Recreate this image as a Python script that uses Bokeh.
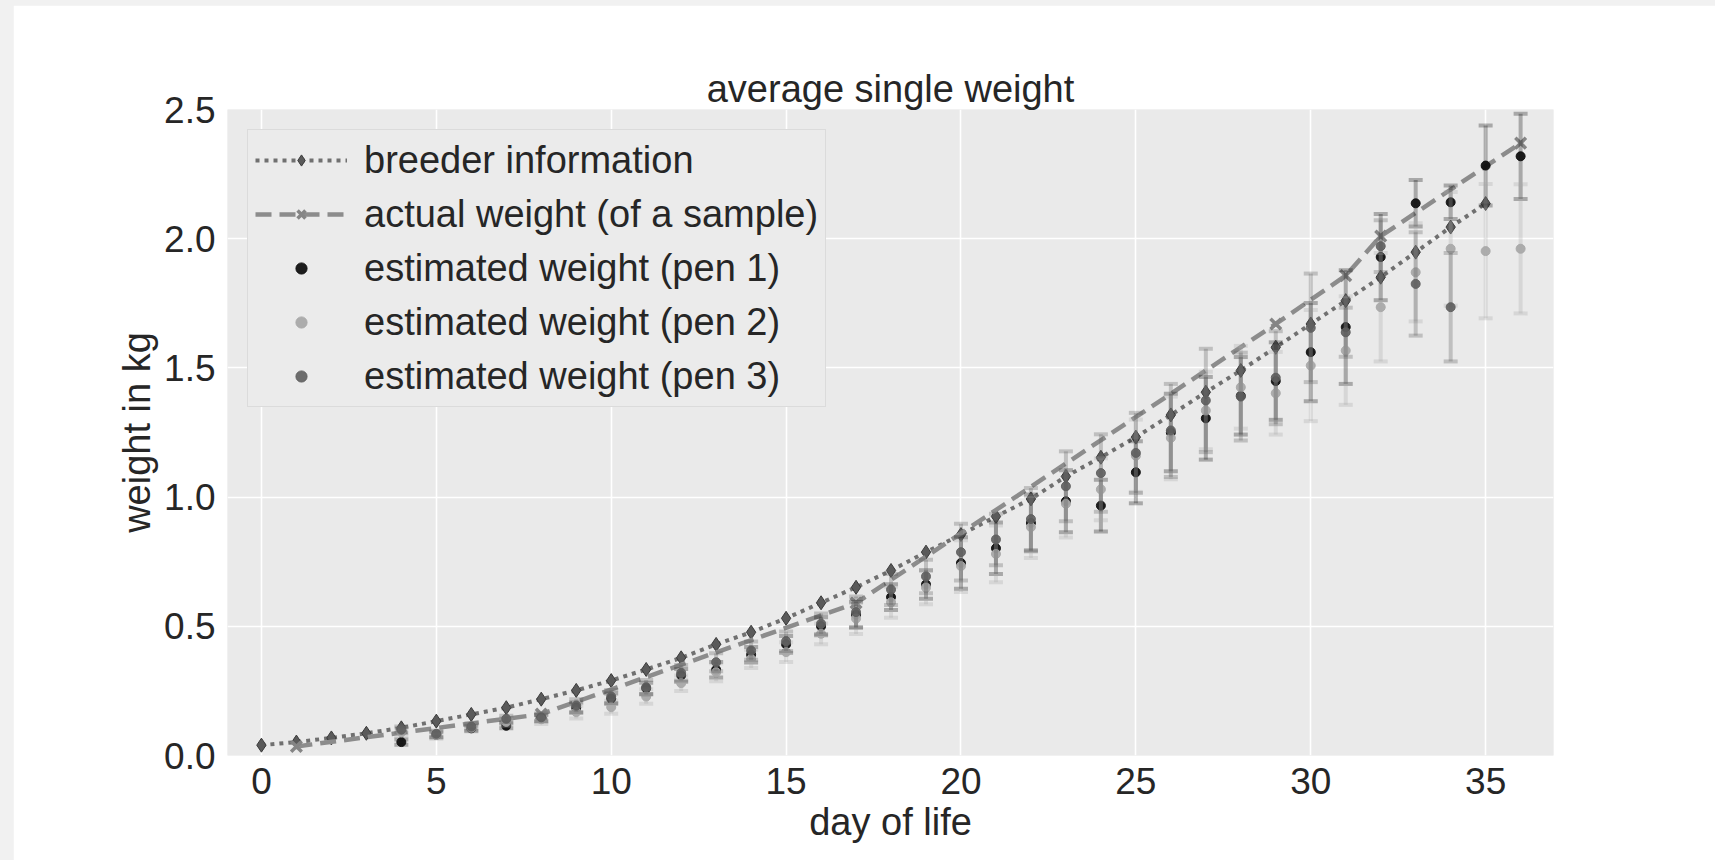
from bokeh.plotting import figure
from bokeh.models import (Range1d, FixedTicker, NumeralTickFormatter, Legend, LegendItem, Column)
from bokeh.embed import file_html
from bokeh.resources import INLINE

# ---------------- data ----------------
breeder_days = list(range(0, 36))
breeder_kg = [0.040, 0.052, 0.068, 0.086, 0.107, 0.133, 0.159, 0.185, 0.218, 0.252,
              0.290, 0.333, 0.378, 0.430, 0.477, 0.531, 0.591, 0.651, 0.716, 0.787,
              0.855, 0.925, 0.993, 1.080, 1.154, 1.232, 1.318, 1.406, 1.490, 1.580,
              1.670, 1.760, 1.851, 1.948, 2.045, 2.136]

actual_days = [1, 8, 17, 29, 31, 32, 36]
actual_kg = [0.035, 0.160, 0.590, 1.670, 1.857, 2.010, 2.370]

pen1_days = list(range(4, 37))
pen1_kg = [0.052, 0.080, 0.105, 0.115, 0.145, 0.185, 0.220, 0.260, 0.310, 0.332,
           0.390, 0.430, 0.500, 0.545, 0.613, 0.662, 0.745, 0.802, 0.900, 0.984,
           0.967, 1.096, 1.250, 1.305, 1.392, 1.449, 1.561, 1.658, 1.929, 2.137,
           2.141, 2.283, 2.319]
pen1_sd = [0.010, 0.010, 0.010, 0.010, 0.012, 0.020, 0.020, 0.022, 0.025, 0.030,
           0.030, 0.032, 0.035, 0.050, 0.050, 0.055, 0.100, 0.100, 0.110, 0.120,
           0.100, 0.120, 0.150, 0.160, 0.150, 0.150, 0.190, 0.220, 0.167, 0.090,
           0.065, 0.155, 0.165]

pen2_days = list(range(4, 37))
pen2_kg = [0.090, 0.080, 0.108, 0.130, 0.140, 0.168, 0.187, 0.228, 0.280, 0.322,
           0.374, 0.400, 0.471, 0.530, 0.593, 0.650, 0.733, 0.780, 0.884, 0.974,
           1.030, 1.160, 1.229, 1.335, 1.425, 1.402, 1.509, 1.567, 1.735, 1.870,
           1.961, 1.952, 1.961]
pen2_sd = [0.015, 0.015, 0.015, 0.015, 0.018, 0.025, 0.025, 0.028, 0.030, 0.035,
           0.035, 0.038, 0.040, 0.060, 0.060, 0.065, 0.100, 0.110, 0.120, 0.130,
           0.120, 0.140, 0.160, 0.150, 0.160, 0.160, 0.215, 0.210, 0.210, 0.190,
           0.220, 0.260, 0.250]

pen3_days = list(range(4, 35))
pen3_kg = [0.100, 0.084, 0.112, 0.142, 0.148, 0.193, 0.228, 0.264, 0.320, 0.361,
           0.406, 0.442, 0.510, 0.555, 0.642, 0.693, 0.787, 0.836, 0.915, 1.042,
           1.093, 1.171, 1.258, 1.374, 1.389, 1.462, 1.655, 1.638, 1.971, 1.825,
           1.735]
pen3_sd = [0.012, 0.012, 0.012, 0.012, 0.015, 0.025, 0.025, 0.028, 0.030, 0.035,
           0.035, 0.038, 0.040, 0.060, 0.060, 0.065, 0.110, 0.100, 0.120, 0.135,
           0.150, 0.155, 0.180, 0.200, 0.170, 0.180, 0.210, 0.095, 0.100, 0.200,
           0.210]

x_ticks = [0, 5, 10, 15, 20, 25, 30, 35]
y_ticks = [0.0, 0.5, 1.0, 1.5, 2.0, 2.5]

FONT = "Liberation Sans"
TXT = "#262626"

p = figure(width=1702, height=855, output_backend="svg", toolbar_location=None,
           x_range=Range1d(-0.97, 36.94), y_range=Range1d(0, 2.5),
           min_border_left=214, min_border_right=162, min_border_top=104,
           min_border_bottom=105, title="average single weight")
p.margin = (5, 0, 0, 13)
p.background_fill_color = "#eaeaea"
p.border_fill_color = "white"
p.outline_line_color = None

p.title.text_font = FONT
p.title.text_font_size = "38px"
p.title.text_font_style = "normal"
p.title.text_color = TXT
p.title.align = "center"
p.title.standoff = 0

p.xaxis.ticker = FixedTicker(ticks=x_ticks)
p.yaxis.ticker = FixedTicker(ticks=y_ticks)
p.yaxis.formatter = NumeralTickFormatter(format="0.0")
p.xgrid.ticker = FixedTicker(ticks=x_ticks)
p.ygrid.ticker = FixedTicker(ticks=y_ticks)
for g in (p.xgrid, p.ygrid):
    g.grid_line_color = "white"
    g.grid_line_width = 1.6

for ax in (p.xaxis, p.yaxis):
    ax.axis_line_color = None
    ax.major_tick_line_color = None
    ax.minor_tick_line_color = None
    ax.major_tick_out = 0
    ax.major_label_text_font = FONT
    ax.major_label_text_font_size = "37px"
    ax.major_label_text_color = TXT
    ax.axis_label_text_font = FONT
    ax.axis_label_text_font_size = "38px"
    ax.axis_label_text_font_style = "normal"
    ax.axis_label_text_color = TXT
p.xaxis.axis_label = "day of life"
p.yaxis.axis_label = "weight in kg"
p.xaxis.major_label_standoff = 12
p.yaxis.major_label_standoff = 12
p.xaxis.axis_label_standoff = 4
p.yaxis.axis_label_standoff = 3

# breeder
b_line = p.line(breeder_days, breeder_kg, line_color="#707070", line_width=4,
                line_dash="4 5")
b_mark = p.scatter(breeder_days, breeder_kg, marker="diamond", size=14,
                   fill_color="#5a5a5a", line_color="#3a3a3a", line_width=1)

# actual
a_line = p.line(actual_days, actual_kg, line_color="#8c8c8c", line_width=4.5,
                line_dash="16 8")
a_mark = p.scatter(actual_days, actual_kg, marker="x", size=15,
                   line_color="#858585", line_width=3.5)

def pen(days, kg, sd, color, bar_alpha, dot_alpha):
    lo = [m - s for m, s in zip(kg, sd)]
    hi = [m + s for m, s in zip(kg, sd)]
    p.segment(x0=days, y0=lo, x1=days, y1=hi, line_color=color,
              line_alpha=bar_alpha, line_width=4)
    p.scatter(days, lo, marker="dash", size=14, line_color=color,
              line_alpha=bar_alpha, line_width=4)
    p.scatter(days, hi, marker="dash", size=14, line_color=color,
              line_alpha=bar_alpha, line_width=4)
    return p.scatter(days, kg, marker="circle", size=9, fill_color=color,
                     line_color=color, fill_alpha=dot_alpha, line_alpha=dot_alpha)

r1 = pen(pen1_days, pen1_kg, pen1_sd, "#111111", 0.3, 0.95)
r2 = pen(pen2_days, pen2_kg, pen2_sd, "#a9a9a9", 0.3, 0.95)
r3 = pen(pen3_days, pen3_kg, pen3_sd, "#5e5e5e", 0.3, 0.9)

legend = Legend(items=[
    LegendItem(label="breeder information", renderers=[b_line, b_mark]),
    LegendItem(label="actual weight (of a sample)", renderers=[a_line, a_mark]),
    LegendItem(label="estimated weight (pen 1)", renderers=[r1]),
    LegendItem(label="estimated weight (pen 2)", renderers=[r2]),
    LegendItem(label="estimated weight (pen 3)", renderers=[r3]),
], location="top_left")
legend.margin = 20
legend.padding = 7
legend.spacing = 8
legend.glyph_width = 92
legend.glyph_height = 28
legend.label_height = 46
legend.label_standoff = 17
legend.label_text_font = FONT
legend.label_text_font_size = "38px"
legend.label_text_color = TXT
legend.background_fill_color = "#ebebeb"
legend.background_fill_alpha = 1.0
legend.border_line_color = "#cccccc"
legend.border_line_width = 1.5
p.add_layout(legend)

root = Column(children=[p], styles={"background-color": "#f1f1f1"})
open("out.html", "w").write(file_html(root, INLINE))
